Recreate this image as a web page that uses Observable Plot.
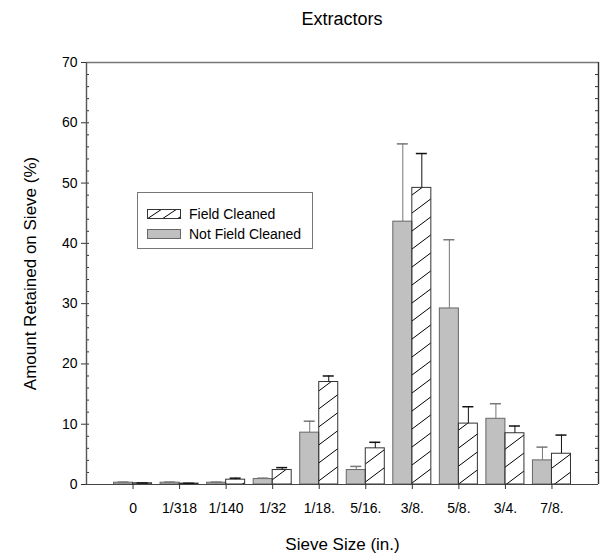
<!DOCTYPE html>
<html><head><meta charset="utf-8">
<script src="https://cdn.jsdelivr.net/npm/d3@7"></script>
<script src="https://cdn.jsdelivr.net/npm/@observablehq/plot@0.6"></script>
<style>
body{margin:0;background:#fff;font-family:"Liberation Sans",Arial,sans-serif;}
#wrap{position:relative;width:605px;height:557px;}
#title{position:absolute;left:86px;width:512px;top:8px;text-align:center;font-size:18px;line-height:22px;}
#legend{position:absolute;left:137px;top:192px;width:176px;height:57px;border:1px solid #777;box-sizing:border-box;font-size:14px;}
.lrow{position:absolute;left:9px;height:18px;display:flex;align-items:center;}
.lrow svg{margin-right:8px;}
</style></head>
<body>
<div id="wrap">
<div id="chart"></div>
<div id="title">Extractors</div>
<div id="legend">
 <div class="lrow" style="top:12px"><svg width="34" height="10"><defs><pattern id="hatchL" patternUnits="userSpaceOnUse" width="15" height="10"><path d="M0,10L15,0" stroke="#000" stroke-width="1"/></pattern></defs><rect x="0.5" y="0.5" width="33" height="9" fill="url(#hatchL)" stroke="#333"/></svg><span>Field Cleaned</span></div>
 <div class="lrow" style="top:32px"><svg width="34" height="10"><rect x="0.5" y="0.5" width="33" height="9" fill="#c0c0c0" stroke="#666"/></svg><span>Not Field Cleaned</span></div>
</div>
</div>
<script>
const sieves = ["0","1/318","1/140","1/32","1/18.","5/16.","3/8.","5/8.","3/4.","7/8."];
const notCleaned    = [0.3, 0.3, 0.3, 0.9, 8.6, 2.4, 43.6, 29.2, 10.9, 4.0];
const notCleanedErr = [0.1, 0.1, 0.1, 0.15, 1.9, 0.6, 12.9, 11.4, 2.5, 2.2];
const cleaned       = [0.2, 0.15, 0.8, 2.4, 17.0, 6.0, 49.2, 10.1, 8.5, 5.1];
const cleanedErr    = [0.05, 0.05, 0.25, 0.4, 1.0, 1.0, 5.7, 2.8, 1.2, 3.1];
const yTicks = [0,10,20,30,40,50,60,70];

const W = 605, H = 557, mL = 86, mR = 7, mT = 62, mB = 73;
const frameW = W - mL - mR;
const barFrac = 19/46.5, capFrac = 11/46.5;

const gray = sieves.map((s,i)=>({s, x1:i+1-barFrac, x2:i+1, xc:i+1-barFrac/2, v:notCleaned[i], e:notCleanedErr[i]}));
const hat  = sieves.map((s,i)=>({s, x1:i+1, x2:i+1+barFrac, xc:i+1+barFrac/2, v:cleaned[i], e:cleanedErr[i]}));
const minor = d3.range(0, 71, 2);

const svg = Plot.plot({
  width: W, height: H, marginLeft: mL, marginRight: mR, marginTop: mT, marginBottom: mB,
  style: {fontFamily: '"Liberation Sans", Arial, sans-serif', fontSize: "14px", background: "white", color: "black"},
  x: {domain: [0, 11], axis: null},
  y: {domain: [0, 70], axis: null},
  marks: [
    Plot.rect(gray, {x1: "x1", x2: "x2", y1: 0, y2: "v", fill: "#c0c0c0", stroke: "#666"}),
    Plot.rect(hat, {x1: "x1", x2: "x2", y1: 0, y2: "v", fill: "url(#hatch)", stroke: "#333"}),
    Plot.ruleX(gray, {x: "xc", y1: "v", y2: d => d.v + d.e, stroke: "#777"}),
    Plot.ruleY(gray, {x1: d => d.xc - capFrac/2, x2: d => d.xc + capFrac/2, y: d => d.v + d.e, stroke: "#777", strokeWidth: 1.5}),
    Plot.ruleX(hat, {x: "xc", y1: "v", y2: d => d.v + d.e, stroke: "#111"}),
    Plot.ruleY(hat, {x1: d => d.xc - capFrac/2, x2: d => d.xc + capFrac/2, y: d => d.v + d.e, stroke: "#111", strokeWidth: 1.5}),
    Plot.ruleY(minor, {y: d => d, insetRight: frameW - 3, stroke: "#333"}),
    Plot.ruleY(minor, {y: d => d, insetLeft: frameW - 3, stroke: "#333"}),
    Plot.ruleY([0], {stroke: "#444", strokeWidth: 1.2}),
    Plot.ruleY([70], {stroke: "#777", strokeWidth: 1.6}),
    Plot.ruleX([0], {stroke: "#555", strokeWidth: 1.4}),
    Plot.ruleX([11], {stroke: "#333", strokeWidth: 1.4}),
    Plot.axisY({ticks: yTicks, tickSize: 5, tickPadding: 4, fontSize: 14, label: null, stroke: "#333"}),
    Plot.axisX({ticks: d3.range(1, 11), tickFormat: i => sieves[i-1], tickSize: 5, tickPadding: 14, fontSize: 14, label: null, stroke: "#333"}),
    Plot.text(["Sieve Size (in.)"], {text: d => d, frameAnchor: "bottom", dy: 60, textAnchor: "middle", lineAnchor: "middle", fontSize: 17}),
    Plot.text(["Amount Retained on Sieve (%)"], {text: d => d, frameAnchor: "left", dx: -56, rotate: -90, textAnchor: "middle", lineAnchor: "middle", fontSize: 17})
  ]
});
d3.select(svg).insert("defs", ":first-child").html(
  '<pattern id="hatch" patternUnits="userSpaceOnUse" width="24" height="18"><path d="M0,18L24,0M-2,1.5L2,-1.5M22,19.5L26,16.5" stroke="#000" stroke-width="1" fill="none"/></pattern>'
);
document.getElementById("chart").appendChild(svg);
</script>
</body></html>
